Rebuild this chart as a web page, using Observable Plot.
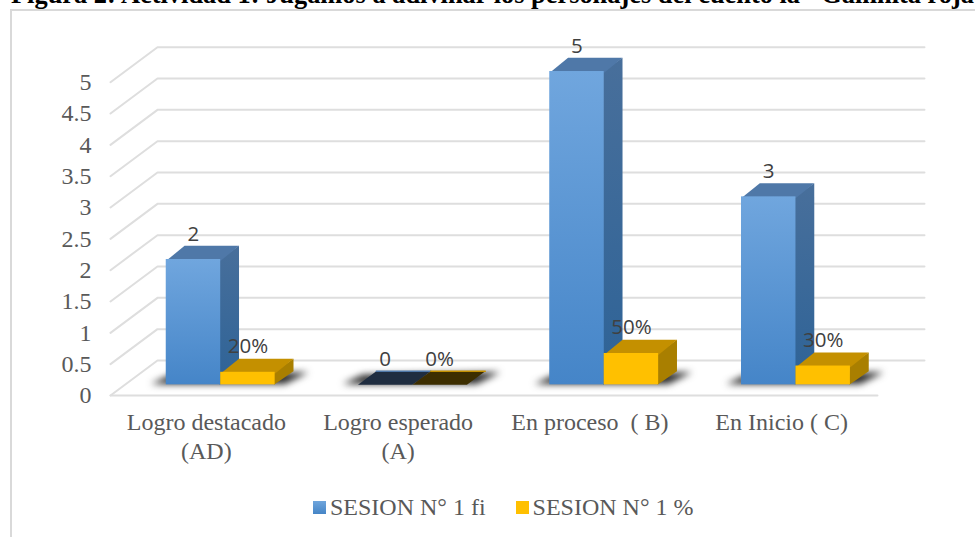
<!DOCTYPE html>
<html><head><meta charset="utf-8">
<script src="https://cdn.jsdelivr.net/npm/d3@7"></script>
<script src="https://cdn.jsdelivr.net/npm/@observablehq/plot@0.6"></script>
<style>
html,body{margin:0;padding:0;background:#fff;width:975px;height:537px;overflow:hidden}
#title{height:9px;overflow:hidden;position:relative;white-space:nowrap;font:bold 26.4px "Liberation Serif",serif;color:#000}
#title span{position:absolute;left:11px;bottom:-1px;white-space:pre}
#frame{position:absolute;left:10px;top:9px;right:-5px;height:540px;border:2px solid #d9d9d9;pointer-events:none}
#chart{display:block;position:absolute;left:0;top:10px}
#legend{position:absolute;left:313px;top:490px;font:24px "Liberation Serif",serif;color:#595959;display:flex;align-items:center;height:34px;white-space:pre}
#legend i{display:inline-block;width:13px;height:13px;margin-right:4px}
#legend span{margin-right:30px}
</style></head><body>
<div id="title"><span>Figura 2: Actividad 1: Jugamos a adivinar los personajes del cuento la "Gallinita roja"</span></div>
<div id="frame"></div>
<div id="chart"></div>
<div id="legend"><i style="background:linear-gradient(#6fa5dc,#4585c6)"></i><span>SESION N° 1 fi</span><i style="background:#ffc000"></i><span>SESION N° 1 %</span></div>
<script>
const categories = ["Logro destacado\n(AD)", "Logro esperado\n(A)", "En proceso  ( B)", "En Inicio ( C)"];
const seriesFi = [2, 0, 5, 3];
const seriesPct = [0.2, 0, 0.5, 0.3];
const labelsFi = ["2", "0", "5", "3"];
const labelsPct = ["20%", "0%", "50%", "30%"];
const yTicks = [0, 0.5, 1, 1.5, 2, 2.5, 3, 3.5, 4, 4.5, 5];

// oblique projection of the 3D box: depth z runs 0 (front) to 1 (back wall)
const depthX = 0.245, depthY = 0.5586, zFront = 0.305, zBack = 0.695, barW = 0.284, seam = 0.006;
const px = (u, z) => u + z * depthX;
const py = (v, z) => v + z * depthY;
const poly = (pts) => pts.map(([u, v, z]) => ({x: px(u, z), y: py(v, z)}));
const face = (pts, fill) => Plot.line(poly(pts), {x: "x", y: "y", fill, stroke: "none", curve: "linear"});

function bar(u0, u1, v, cols) {
  const marks = [];
  if (v > 0) {
    marks.push(face([[u1-seam,0,zFront],[u1,0,zBack],[u1,v,zBack],[u1-seam,v,zFront]], cols.side));
    marks.push(face([[u0,v-0.02,zFront],[u0,v,zBack],[u1,v,zBack],[u1,v-0.02,zFront]], cols.top));
    marks.push(Plot.rect([{}], {x1: () => px(u0,zFront), x2: () => px(u1,zFront), y1: () => py(0,zFront), y2: () => py(v,zFront), fill: cols.front}));
  } else {
    marks.push(face([[u0,0,zFront],[u0,0,zBack],[u1,0,zBack],[u1,0,zFront]], cols.zero));
    marks.push(Plot.line(poly([[u0,0,zBack],[u1,0,zBack]]), {x:"x", y:"y", stroke: cols.top, strokeWidth: 1.5}));
  }
  return marks;
}
const blue = {side: "url(#blueSide)", top: "#4f78a8", front: "url(#blueFront)", zero: "#1f2d40"};
const gold = {side: "#a97f00", top: "#c49000", front: "#ffc000", zero: "#3d2e00"};

const gridMarks = yTicks.map(v => Plot.line(
  poly([[-0.5,v,0],[-0.5,v,1],[3.5,v,1]]),
  {x:"x", y:"y", stroke:"#dedede", strokeWidth:2, curve:"linear", imageFilter:"blur(0.5px)"}));
gridMarks.push(Plot.line(poly([[-0.5,0,0],[3.5,0,0]]), {x:"x", y:"y", stroke:"#dedede", strokeWidth:2, imageFilter:"blur(0.5px)"}));

const shadowMarks = categories.map((c, i) => {
  const a = i - barW - 0.085, b = i + barW + 0.085;
  return Plot.line(poly([[a,0,zFront+0.02],[a+0.04,0,zBack-0.1],[b,0,zBack-0.03],[b-0.04,0,zFront+0.02]]),
    {x:"x", y:"y", fill:"#262626", stroke:"none", imageFilter:"blur(3.5px)", curve:"linear"});
});

const barMarks = categories.flatMap((c, i) => [
  ...bar(i - barW, i, seriesFi[i], blue),
  ...bar(i, i + barW, seriesPct[i], gold)
]);

const defs = () => {
  const d = d3.create("svg:defs");
  const g = (id, a, b) => {
    const l = d.append("linearGradient").attr("id", id).attr("x1",0).attr("y1",0).attr("x2",0).attr("y2",1);
    l.append("stop").attr("offset",0).attr("stop-color",a);
    l.append("stop").attr("offset",1).attr("stop-color",b);
  };
  g("blueFront", "#70a6de", "#4585c8");
  g("blueSide", "#486f9b", "#2e6397");
  return d.node();
};

const textOpts = {fontFamily:"Open Sans", fontSize:20.5, fill:"#404040", lineAnchor:"bottom", dy:-19};
const valueRows = (vals, labels, sign) => vals.map((v, i) => ({
  x: px(i + sign * barW / 2, zFront), y: py(v, zFront), t: labels[i]}));

const plot = Plot.plot({
  width: 975, height: 470,
  margin: 0,
  x: {type:"linear", domain:[-0.5,3.5], range:[110,877], axis:null},
  y: {type:"linear", domain:[0,5], range:[385,71.7], axis:null},
  marks: [
    defs,
    ...gridMarks,
    ...shadowMarks,
    ...barMarks,
    Plot.text(yTicks, {x:()=>-0.5, y:d=>d, text:d=>String(d), textAnchor:"end", dx:-19,
      fontFamily:"Liberation Serif", fontSize:24, fill:"#595959"}),
    Plot.text(categories, {x:(d,i)=>i, y:()=>0, text:d=>d, lineAnchor:"top", dy:15, lineHeight:1.17,
      fontFamily:"Liberation Serif", fontSize:24, fill:"#595959"}),
    Plot.text(valueRows(seriesFi, labelsFi, -1), {x:"x", y:"y", text:"t", ...textOpts}),
    Plot.text(valueRows(seriesPct, labelsPct, 1), {x:"x", y:"y", text:"t", ...textOpts})
  ]
});
document.getElementById("chart").append(plot);
</script>
</body></html>
